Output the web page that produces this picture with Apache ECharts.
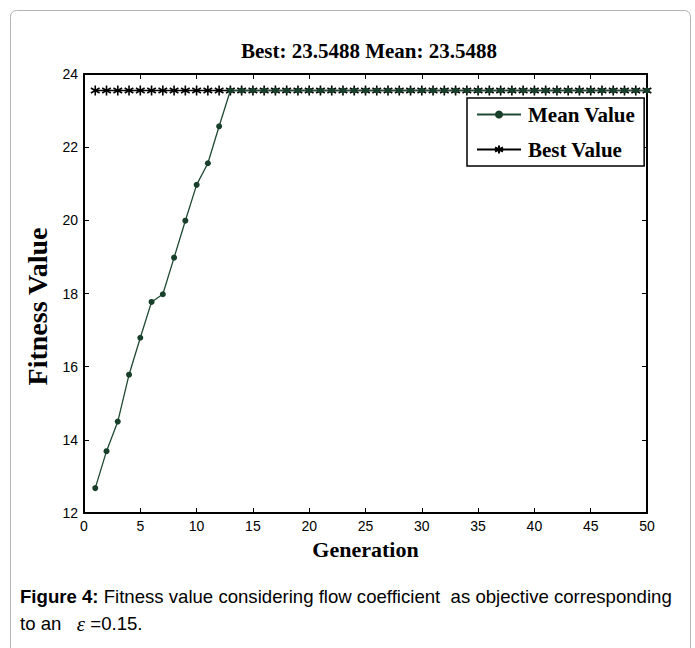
<!DOCTYPE html>
<html>
<head>
<meta charset="utf-8">
<script src="https://cdn.jsdelivr.net/npm/echarts@6/dist/echarts.min.js"></script>
<style>
html,body{margin:0;padding:0;background:#fff;}
#chart{width:695px;height:648px;}
</style>
</head>
<body>
<div id="chart"></div>
<script>
// ---- data ----
const generations = Array.from({length: 50}, (_, i) => i + 1);
const meanValues = [12.68, 13.69, 14.50, 15.78, 16.79, 17.77, 17.98, 18.98, 19.99, 20.97, 21.56, 22.57,
  23.5488, 23.5488, 23.5488, 23.5488, 23.5488, 23.5488, 23.5488, 23.5488,
  23.5488, 23.5488, 23.5488, 23.5488, 23.5488, 23.5488, 23.5488, 23.5488, 23.5488, 23.5488,
  23.5488, 23.5488, 23.5488, 23.5488, 23.5488, 23.5488, 23.5488, 23.5488, 23.5488, 23.5488,
  23.5488, 23.5488, 23.5488, 23.5488, 23.5488, 23.5488, 23.5488, 23.5488, 23.5488, 23.5488];
const bestValues = [23.5488, 23.5488, 23.5488, 23.5488, 23.5488, 23.5488, 23.5488, 23.5488, 23.5488, 23.5488,
  23.5488, 23.5488, 23.5488, 23.5488, 23.5488, 23.5488, 23.5488, 23.5488, 23.5488, 23.5488,
  23.5488, 23.5488, 23.5488, 23.5488, 23.5488, 23.5488, 23.5488, 23.5488, 23.5488, 23.5488,
  23.5488, 23.5488, 23.5488, 23.5488, 23.5488, 23.5488, 23.5488, 23.5488, 23.5488, 23.5488,
  23.5488, 23.5488, 23.5488, 23.5488, 23.5488, 23.5488, 23.5488, 23.5488, 23.5488, 23.5488];
const seriesNames = ['Mean Value', 'Best Value'];
const chartTitle = 'Best: 23.5488 Mean: 23.5488';
const xAxisName = 'Generation';
const yAxisName = 'Fitness Value';

const serif = '"Liberation Serif", "DejaVu Serif", serif';
const sans = '"Liberation Sans", Arial, sans-serif';
const star = 'path://M0,-5L0,5M-4.33,-2.5L4.33,2.5M-4.33,2.5L4.33,-2.5';

const chart = echarts.init(document.getElementById('chart'), null, {renderer: 'svg'});
const boxAxisX = {min: 0, max: 50, interval: 5};
const boxAxisY = {min: 12, max: 24, interval: 2};
const axisLine = {show: true, onZero: false, lineStyle: {color: '#000', width: 2}};
const tick = {show: true, inside: true, length: 5, lineStyle: {color: '#000', width: 1}};

chart.setOption({
  backgroundColor: '#fff',
  animation: false,
  title: {
    text: chartTitle,
    left: 364, top: 35, textAlign: 'center',
    textStyle: {fontFamily: serif, fontWeight: 'bold', fontSize: 21, color: '#000'}
  },
  legend: {
    data: seriesNames,
    orient: 'vertical',
    left: 467, top: 98,
    padding: [6, 9, 6, 9],
    itemGap: 14,
    itemWidth: 44, itemHeight: 10,
    borderColor: '#000', borderWidth: 1.5,
    backgroundColor: '#fff',
    textStyle: {fontFamily: serif, fontWeight: 'bold', fontSize: 21, color: '#000', padding: [0, 0, 0, 2]}
  },
  grid: {left: 84, right: 48, top: 74, bottom: 135, containLabel: false},
  xAxis: [
    Object.assign({type: 'value', position: 'bottom', name: xAxisName, nameLocation: 'middle', nameGap: 25,
      nameTextStyle: {fontFamily: serif, fontWeight: 'bold', fontSize: 22, color: '#000'},
      axisLine: axisLine, axisTick: tick,
      axisLabel: {fontFamily: sans, fontSize: 14, color: '#000', margin: 6},
      splitLine: {show: false}}, boxAxisX),
    Object.assign({type: 'value', position: 'top', axisLine: axisLine, axisTick: tick,
      axisLabel: {show: false}, splitLine: {show: false}}, boxAxisX)
  ],
  yAxis: [
    Object.assign({type: 'value', position: 'left', name: yAxisName, nameLocation: 'middle', nameGap: 26,
      nameTextStyle: {fontFamily: serif, fontWeight: 'bold', fontSize: 28, color: '#000', padding: [0, 26, 0, 0]},
      axisLine: axisLine, axisTick: tick,
      axisLabel: {fontFamily: sans, fontSize: 14, color: '#000', margin: 6},
      splitLine: {show: false}}, boxAxisY),
    Object.assign({type: 'value', position: 'right', axisLine: axisLine, axisTick: tick,
      axisLabel: {show: false}, splitLine: {show: false}}, boxAxisY)
  ],
  series: [
    {
      name: seriesNames[0], type: 'line', xAxisIndex: 0, yAxisIndex: 0,
      data: generations.map((g, i) => [g, meanValues[i]]),
      symbol: 'circle', symbolSize: 6, showSymbol: true,
      lineStyle: {color: '#1f4a33', width: 1.3},
      itemStyle: {color: '#173f2a', borderWidth: 0},
      z: 3
    },
    {
      name: seriesNames[1], type: 'line', xAxisIndex: 0, yAxisIndex: 0,
      data: generations.map((g, i) => [g, bestValues[i]]),
      symbol: star, symbolSize: 10, symbolKeepAspect: true, showSymbol: true,
      lineStyle: {color: '#000', width: 1.5},
      itemStyle: {color: 'none', borderColor: '#000', borderWidth: 1.6},
      z: 2
    }
  ],
  graphic: [
    {type: 'rect', left: 10, top: 10, shape: {width: 680, height: 660, r: 6}, z: -10,
      style: {fill: '#fff', stroke: '#b4b4b4', lineWidth: 1}},
    {type: 'text', left: 20, top: 583,
      style: {
        text: '{b|Figure 4:} Fitness value considering flow coefficient  as objective corresponding\nto an   {e|ε} =0.15.',
        fontFamily: sans, fontSize: 18.6, fill: '#000', lineHeight: 27,
        rich: {
          b: {fontFamily: sans, fontSize: 18.6, fontWeight: 'bold', fill: '#000'},
          e: {fontFamily: serif, fontSize: 21, fontStyle: 'italic', fill: '#000'}
        }
      }}
  ]
});
</script>
</body>
</html>
